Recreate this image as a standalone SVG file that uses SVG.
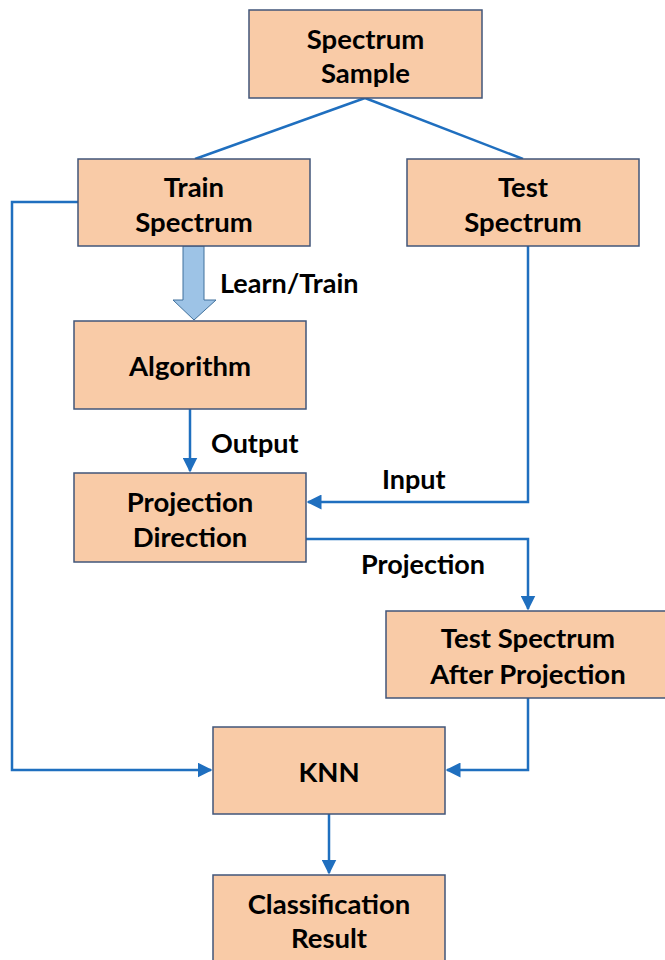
<svg xmlns="http://www.w3.org/2000/svg" width="665" height="960" viewBox="0 0 665 960">
<defs>
<style>
.box{fill:#F9CBA7;stroke:#41567A;stroke-width:1.5}
.t{font-family:Lato,"Liberation Sans",sans-serif;font-weight:bold;font-size:27.5px;fill:#000;text-anchor:middle;dominant-baseline:central}
.l{font-family:Lato,"Liberation Sans",sans-serif;font-weight:bold;font-size:27px;fill:#000;dominant-baseline:central}
.c{fill:none;stroke:#1F6FBF;stroke-width:2.5}
</style>
<marker id="ah" viewBox="0 0 10 10" refX="9" refY="5" markerWidth="6" markerHeight="6" markerUnits="strokeWidth" orient="auto">
<path d="M0,0 L10,5 L0,10 Z" fill="#1F6FBF"/>
</marker>
</defs>
<rect width="665" height="960" fill="#fff"/>
<g id="connectors">
<path class="c" d="M365,98 L195,159"/>
<path class="c" d="M365,98 L523,159"/>
<path class="c" d="M78,202 L12,202 L12,770 L211,770" marker-end="url(#ah)"/>
<path class="c" d="M190,409 L190,471" marker-end="url(#ah)"/>
<path class="c" d="M528,246 L528,502 L308,502" marker-end="url(#ah)"/>
<path class="c" d="M306,539 L528,539 L528,609" marker-end="url(#ah)"/>
<path class="c" d="M528,698 L528,770 L447,770" marker-end="url(#ah)"/>
<path class="c" d="M329,814 L329,873" marker-end="url(#ah)"/>
<path d="M183,246 L204,246 L204,300 L216,300 L194,320 L173,300 L183,300 Z" fill="#9DC3E6" stroke="#41719C" stroke-width="1"/>
<text class="l" x="220" y="282">Learn/Train</text>
<text class="l" x="211" y="442">Output</text>
<text class="l" x="382" y="478">Input</text>
<text class="l" x="361" y="563">Projection</text>
</g>
<g id="spectrum-sample">
<rect class="box" x="249" y="10" width="233" height="88"/>
<text class="t" x="365.5" y="38">Spectrum</text>
<text class="t" x="365.5" y="72">Sample</text>
</g>
<g id="train-spectrum">
<rect class="box" x="78" y="159" width="232" height="87"/>
<text class="t" x="194" y="186">Train</text>
<text class="t" x="194" y="221">Spectrum</text>
</g>
<g id="test-spectrum">
<rect class="box" x="407" y="159" width="232" height="87"/>
<text class="t" x="523" y="186">Test</text>
<text class="t" x="523" y="221">Spectrum</text>
</g>
<g id="algorithm">
<rect class="box" x="74" y="321" width="232" height="88"/>
<text class="t" x="190" y="365">Algorithm</text>
</g>
<g id="projection-direction">
<rect class="box" x="74" y="473" width="232" height="89"/>
<text class="t" x="190" y="501">Projection</text>
<text class="t" x="190" y="536">Direction</text>
</g>
<g id="test-after-projection">
<rect class="box" x="386" y="611" width="284" height="87"/>
<text class="t" x="528" y="637">Test Spectrum</text>
<text class="t" x="528" y="673">After Projection</text>
</g>
<g id="knn">
<rect class="box" x="213" y="727" width="232" height="87"/>
<text class="t" x="329" y="771">KNN</text>
</g>
<g id="classification-result">
<rect class="box" x="213" y="875" width="232" height="90"/>
<text class="t" x="329" y="903">Classification</text>
<text class="t" x="329" y="937">Result</text>
</g>
</svg>
